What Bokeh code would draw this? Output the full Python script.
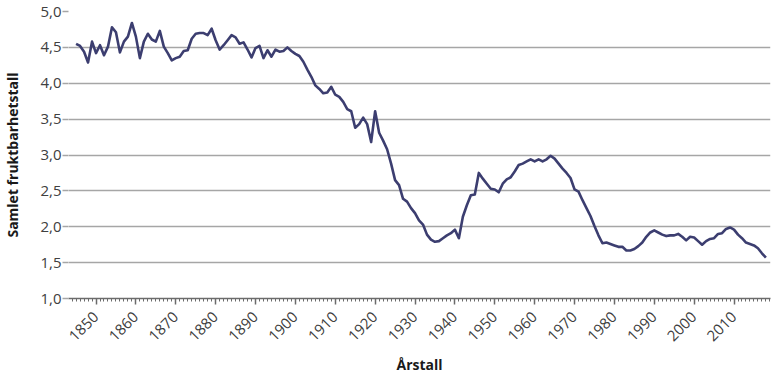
import math
from bokeh.plotting import figure
from bokeh.models import Range1d, FixedTicker, CustomJSTickFormatter
from bokeh.embed import file_html
from bokeh.resources import INLINE

# ---- data ----
years = list(range(1845, 2019))
tfr = [
    4.55, 4.52, 4.44, 4.29, 4.58,                                  # 1845-1849
    4.42, 4.53, 4.39, 4.51, 4.78, 4.71, 4.43, 4.58, 4.65, 4.84,    # 1850s
    4.65, 4.35, 4.58, 4.69, 4.61, 4.58, 4.73, 4.51, 4.42, 4.32,    # 1860s
    4.35, 4.37, 4.45, 4.46, 4.62, 4.69, 4.70, 4.70, 4.67, 4.76,    # 1870s
    4.60, 4.47, 4.53, 4.60, 4.67, 4.64, 4.55, 4.57, 4.47, 4.36,    # 1880s
    4.49, 4.52, 4.35, 4.46, 4.37, 4.47, 4.44, 4.45, 4.50, 4.45,    # 1890s
    4.41, 4.38, 4.30, 4.19, 4.09, 3.97, 3.92, 3.86, 3.87, 3.95,    # 1900s
    3.84, 3.81, 3.74, 3.64, 3.61, 3.38, 3.43, 3.52, 3.43, 3.18,    # 1910s
    3.61, 3.31, 3.20, 3.08, 2.88, 2.65, 2.58, 2.39, 2.35, 2.26,    # 1920s
    2.19, 2.09, 2.03, 1.89, 1.82, 1.79, 1.80, 1.84, 1.88, 1.91,    # 1930s
    1.96, 1.84, 2.14, 2.30, 2.44, 2.45, 2.75, 2.67, 2.60, 2.53,    # 1940s
    2.52, 2.48, 2.60, 2.66, 2.69, 2.77, 2.86, 2.88, 2.91, 2.94,    # 1950s
    2.91, 2.94, 2.91, 2.94, 2.99, 2.95, 2.88, 2.81, 2.75, 2.68,    # 1960s
    2.52, 2.49, 2.37, 2.26, 2.15, 2.01, 1.88, 1.77, 1.78, 1.76,    # 1970s
    1.74, 1.72, 1.72, 1.67, 1.67, 1.69, 1.73, 1.78, 1.86, 1.92,    # 1980s
    1.95, 1.92, 1.89, 1.87, 1.88, 1.88, 1.90, 1.86, 1.81, 1.86,    # 1990s
    1.85, 1.80, 1.75, 1.80, 1.83, 1.84, 1.90, 1.91, 1.97, 1.99,    # 2000s
    1.96, 1.89, 1.84, 1.78, 1.76, 1.74, 1.70, 1.63, 1.57,          # 2010-2018
]
x_major_ticks = [1850, 1860, 1870, 1880, 1890, 1900, 1910, 1920, 1930,
                 1940, 1950, 1960, 1970, 1980, 1990, 2000, 2010]
x_minor_ticks = list(range(1843, 2020))
y_ticks = [1.0, 1.5, 2.0, 2.5, 3.0, 3.5, 4.0, 4.5, 5.0]
x_title = "Årstall"
y_title = "Samlet fruktbarhetstall"

FONT = "Open Sans"
TXT = "#404040"

p = figure(width=780, height=384, output_backend="svg", toolbar_location=None,
           x_range=Range1d(1843.1, 2019.15), y_range=Range1d(1.0, 5.0),
           min_border_left=64, min_border_right=10, min_border_top=11,
           min_border_bottom=86)
p.outline_line_color = None
p.background_fill_color = "white"
p.border_fill_color = "white"

p.line(years, tfr, line_color="#3c3e70", line_width=2.6, line_join="round")

# grid
p.xgrid.visible = False
p.ygrid.ticker = FixedTicker(ticks=y_ticks)
p.ygrid.grid_line_color = "#a6a6a6"
p.ygrid.grid_line_width = 1.6

# x axis
xa = p.xaxis[0]
xa.ticker = FixedTicker(ticks=x_major_ticks, minor_ticks=x_minor_ticks)
xa.major_label_orientation = math.pi / 4
xa.axis_line_color = "#6b6b6b"
xa.axis_line_width = 1.5
xa.major_tick_line_color = "#6b6b6b"
xa.major_tick_line_width = 1.5
xa.major_tick_out = 6
xa.major_tick_in = 0
xa.minor_tick_line_color = "#6b6b6b"
xa.minor_tick_line_width = 1
xa.minor_tick_out = 3
xa.minor_tick_in = 0
xa.major_label_text_font = FONT
xa.major_label_text_font_size = "15px"
xa.major_label_text_color = TXT
xa.major_label_standoff = 10
xa.axis_label = x_title
xa.axis_label_text_font = FONT
xa.axis_label_text_font_style = "bold"
xa.axis_label_text_font_size = "14px"
xa.axis_label_text_color = "#1a1a1a"
xa.axis_label_standoff = 6

# y axis
ya = p.yaxis[0]
ya.ticker = FixedTicker(ticks=y_ticks)
ya.formatter = CustomJSTickFormatter(code="return tick.toFixed(1).replace('.', ',');")
ya.axis_line_color = None
ya.major_tick_line_color = "#a6a6a6"
ya.major_tick_line_width = 1.6
ya.major_tick_out = 6
ya.major_tick_in = 0
ya.minor_tick_line_color = None
ya.major_label_text_font = FONT
ya.major_label_text_font_size = "15px"
ya.major_label_text_color = TXT
ya.major_label_standoff = 1
ya.axis_label = y_title
ya.axis_label_text_font = FONT
ya.axis_label_text_font_style = "bold"
ya.axis_label_text_font_size = "14px"
ya.axis_label_text_color = "#1a1a1a"
ya.axis_label_standoff = 15

open("out.html", "w").write(file_html(p, INLINE))
